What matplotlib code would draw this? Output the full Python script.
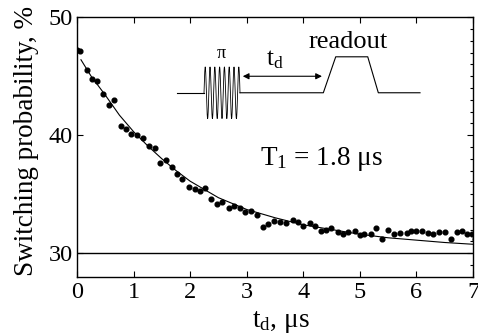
import matplotlib
matplotlib.use('Agg')
import matplotlib.pyplot as plt
import numpy as np
from matplotlib.ticker import MultipleLocator

plt.rcParams['font.family'] = ['Liberation Serif', 'DejaVu Serif']
plt.rcParams['mathtext.fontset'] = 'custom'
plt.rcParams['mathtext.rm'] = 'Liberation Serif'
plt.rcParams['mathtext.it'] = 'Liberation Serif:italic'

# measured switching probability vs delay time
t_data = [0.00, 0.06, 0.17, 0.26, 0.36, 0.46, 0.57, 0.66, 0.78, 0.86,
          0.96, 1.06, 1.17, 1.27, 1.37, 1.47, 1.58, 1.68, 1.77, 1.86,
          1.98, 2.08, 2.17, 2.26, 2.37, 2.48, 2.57, 2.69, 2.78, 2.88,
          2.97, 3.08, 3.18, 3.28, 3.38, 3.49, 3.58, 3.69, 3.81, 3.90,
          3.99, 4.11, 4.20, 4.32, 4.40, 4.49, 4.61, 4.70, 4.79, 4.91,
          5.00, 5.08, 5.20, 5.29, 5.39, 5.50, 5.61, 5.71, 5.83, 5.91,
          6.00, 6.09, 6.20, 6.30, 6.39, 6.50, 6.61, 6.71, 6.80, 6.89,
          6.98, 7.03]
p_data = [47.2, 47.1, 45.5, 44.8, 44.6, 43.5, 42.6, 42.95, 40.8, 40.55,
          40.1, 40.05, 39.75, 39.1, 38.9, 37.65, 37.9, 37.3, 36.7, 36.3,
          35.6, 35.4, 35.25, 35.5, 34.6, 34.2, 34.3, 33.8, 34.0, 33.85,
          33.5, 33.6, 33.2, 32.25, 32.5, 32.75, 32.6, 32.55, 32.8, 32.6,
          32.3, 32.55, 32.3, 31.9, 32.0, 32.1, 31.8, 31.65, 31.8, 31.9,
          31.5, 31.6, 31.65, 32.1, 31.2, 32.0, 31.65, 31.7, 31.7, 31.85,
          31.9, 31.9, 31.7, 31.65, 31.8, 31.8, 31.2, 31.8, 31.85, 31.65,
          31.65, 31.2]

# exponential fit, T1 = 1.8 us
t_fit = [0.07, 0.25, 0.5, 0.75, 1.0, 1.25, 1.5, 1.75, 2.0, 2.25, 2.5,
         2.75, 3.0, 3.5, 4.0, 4.5, 5.0, 5.5, 6.0, 6.5, 7.0]
p_fit = [46.4, 45.0, 43.4, 41.7, 40.3, 39.1, 38.0, 37.0, 36.1, 35.4, 34.7,
         34.2, 33.7, 33.0, 32.4, 32.0, 31.6, 31.3, 31.1, 30.9, 30.75]

baseline = 30
x_ticks = [0, 1, 2, 3, 4, 5, 6, 7]
y_ticks = [30, 40, 50]

fig = plt.figure(figsize=(4.78, 3.36), dpi=100)
ax = fig.add_axes([0.1611, 0.1765, 0.8285, 0.772])

ax.axhline(baseline, color='k', lw=1.0)
ax.plot(t_fit, p_fit, color='k', lw=0.8)
ax.plot(t_data, p_data, 'o', color='k', ms=3.4, mec='k')

# pulse sequence sketch
y0 = 43.6
ax.plot([1.76, 2.245], [y0, y0], color='k', lw=0.8)
tw = np.linspace(2.245, 2.881, 400)
ax.plot(tw, y0 + 2.19 * np.sin(2 * np.pi * 7.5 * (tw - 2.245) / (2.881 - 2.245)),
        color='k', lw=0.6)
ax.plot([2.881, 4.354, 4.573, 5.139, 5.326, 6.063],
        [y0, y0, 46.65, 46.65, y0, y0], color='k', lw=0.8)
ax.annotate('', xy=(4.33, 45.0), xytext=(2.93, 45.0),
            arrowprops=dict(arrowstyle='<|-|>', color='k', lw=0.8,
                            mutation_scale=9, shrinkA=0, shrinkB=0))
ax.text(2.546, 46.9, 'π', ha='center', va='center', fontsize=13)
ax.text(4.796, 47.9, 'readout', ha='center', va='center', fontsize=19)
ax.text(3.50, 45.95, r't$_\mathrm{d}$', ha='center', va='baseline', fontsize=18)
ax.text(3.24, 37.45, r'T$_\mathrm{1}$ = 1.8 μs', ha='left', va='baseline',
        fontsize=19.5)

ax.set_xlim(0, 7)
ax.set_ylim(28, 50)
ax.set_xticks(x_ticks)
ax.set_yticks(y_ticks)
ax.yaxis.set_minor_locator(MultipleLocator(1))
ax.tick_params(which='major', direction='in', top=True, right=True,
               length=4, width=0.8, labelsize=17.5)
ax.tick_params(axis='x', pad=4)
ax.tick_params(axis='y', pad=3)
ax.tick_params(which='minor', direction='in', left=False, right=True,
               length=2, width=0.8)
for s in ax.spines.values():
    s.set_linewidth(1.0)

ax.set_xlabel(r't$_\mathrm{d}$, μs', fontsize=19.5, va='top')
ax.xaxis.set_label_coords(0.514, -0.123)
ax.set_ylabel('Switching probability, %', fontsize=19.5)
ax.yaxis.set_label_coords(-0.095, 0.525)

fig.savefig('out.png', dpi=100)
